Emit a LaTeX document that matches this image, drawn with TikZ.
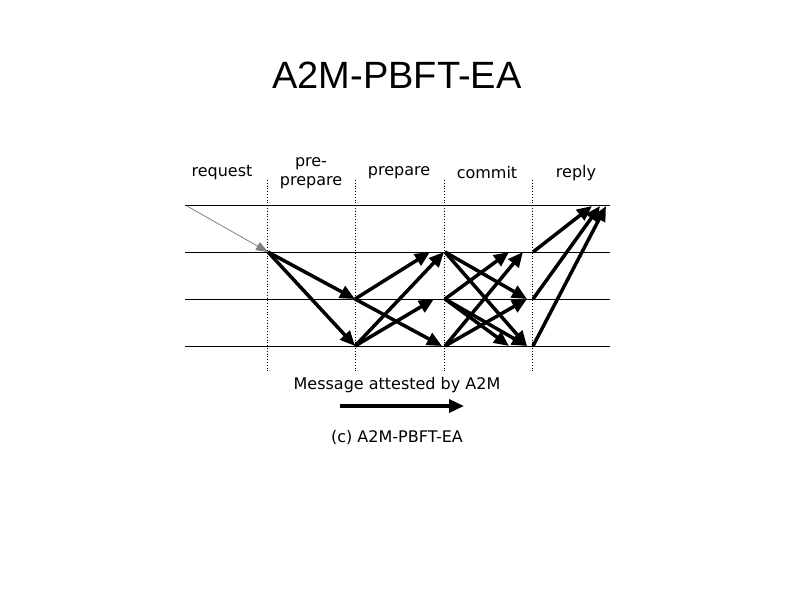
\documentclass[tikz,border=0pt]{standalone}
\usepackage{fontspec}
\setmainfont{DejaVu Sans}
\newfontfamily\titlefont{Liberation Sans}
\usetikzlibrary{arrows.meta}
\begin{document}
\begin{tikzpicture}[x=1pt,y=-1pt,
  msg/.style={line width=3.5pt,-{Triangle[length=15pt,width=13pt]}},
  req/.style={gray,line width=0.8pt,-{Triangle[length=12pt,width=9pt]}},
  hline/.style={line width=0.8pt},
  vdot/.style={dotted,line width=0.8pt},
  lab/.style={font=\fontsize{16}{19}\selectfont,align=center}]
\useasboundingbox (0,0) rectangle (794,595);
\node[font=\titlefont\fontsize{38}{44}\selectfont] (title) at (397,75) {A2M-PBFT-EA};
\foreach \y/\n in {205/0,252/1,299/2,346/3}{\draw[hline] (185,\y) -- (610,\y);}
\foreach \x in {267,355,444,532}{\draw[vdot] (\x,180) -- (\x,372);}
\node[lab] (l1) at (222,173) {request};
\node[lab] (l2) at (311,173) {pre-\\prepare};
\node[lab] (l3) at (399,173) {prepare};
\node[lab] (l4) at (487,173) {commit};
\node[lab] (l5) at (576,173) {reply};
% points
\coordinate (c0) at (187,206);
\coordinate (p1) at (268,252);
\coordinate (a2) at (355,299); \coordinate (a3) at (355,346);
\coordinate (b1) at (445,252); \coordinate (b2) at (445,299); \coordinate (b3) at (445,346);
\coordinate (d1) at (533,252); \coordinate (d2) at (533,299); \coordinate (d3) at (533,346);
\draw[req] (c0) -- (p1);
\draw[msg] (p1) -- (a2);
\draw[msg] (p1) -- (a3);
\draw[msg] (a2) -- (430,252);
\draw[msg] (a2) -- (442,346);
\draw[msg] (a3) -- (444,252);
\draw[msg] (a3) -- (434,299);
\draw[msg] (b1) -- (527,299);
\draw[msg] (b1) -- (527,346);
\draw[msg] (b2) -- (509,252);
\draw[msg] (b2) -- (527,346);
\draw[msg] (b3) -- (523,252);
\draw[msg] (b3) -- (527,299);
\draw[msg] (b2) -- (509,346);
\draw[msg] (d1) -- (592,206);
\draw[msg] (d2) -- (600,206);
\draw[msg] (d3) -- (606,206);
\node[lab] (m) at (397,385) {Message attested by A2M};
\coordinate (ma) at (340,406); \coordinate (mb) at (464,406);
\draw[msg] (ma) -- (mb);
\node[lab] (cap) at (397,437) {(c) A2M-PBFT-EA};
\end{tikzpicture}
\end{document}
